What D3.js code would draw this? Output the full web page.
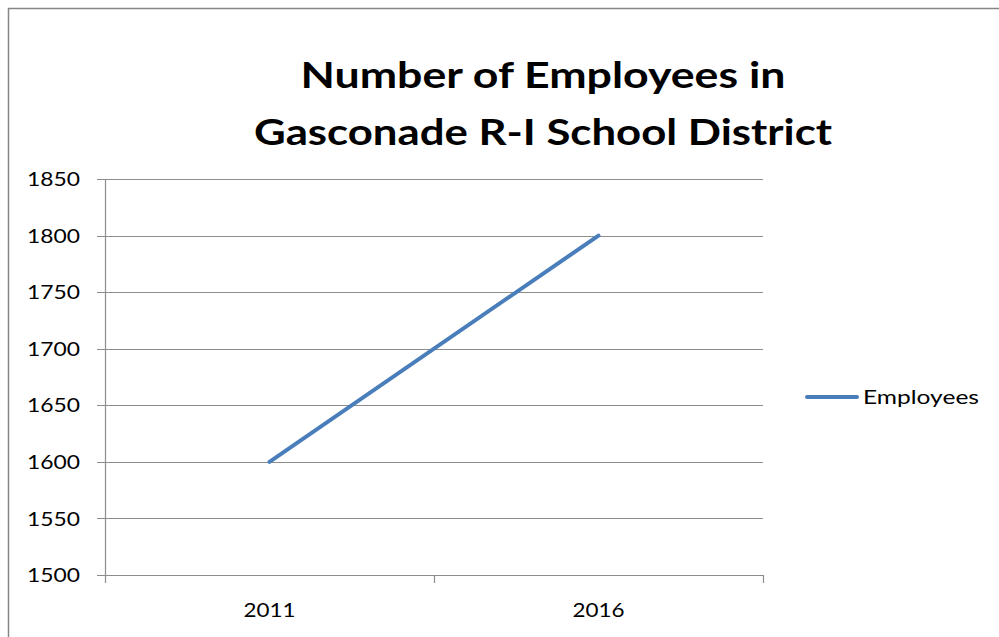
<!DOCTYPE html>
<html>
<head>
<meta charset="utf-8">
<script src="https://cdn.jsdelivr.net/npm/d3@7/dist/d3.min.js"></script>
<style>
html,body{margin:0;padding:0;background:#fff;overflow:hidden;}
svg{display:block;}
text{font-family:Lato,"Open Sans",sans-serif;fill:#000;}
</style>
</head>
<body>
<svg id="chart" width="999" height="637"></svg>
<script>
const categories = ["2011", "2016"];
const employees = [1600, 1800];
const yTicks = [1500, 1550, 1600, 1650, 1700, 1750, 1800, 1850];
const titleLines = ["Number of Employees in", "Gasconade R-I School District"];
const seriesName = "Employees";

(function () {
const svg = d3.select("#chart");
// outer border
svg.append("rect").attr("x", 8.5).attr("y", 8.5).attr("width", 995).attr("height", 640)
  .attr("fill", "none").attr("stroke", "#868686").attr("stroke-width", 1.5);

const pLeft = 105, pRight = 763, pTop = 179, pBottom = 575;
const x = d3.scaleBand().domain(categories).range([pLeft, pRight]);
const y = d3.scaleLinear().domain([1500, 1850]).range([pBottom, pTop]);

// gridlines
svg.append("g").selectAll("line").data(yTicks).join("line")
  .attr("x1", pLeft - 8).attr("x2", pRight)
  .attr("y1", d => Math.round(y(d)) + 0.5).attr("y2", d => Math.round(y(d)) + 0.5)
  .attr("stroke", "#8c8c8c").attr("stroke-width", 1.2);

// y axis line
svg.append("line").attr("x1", pLeft + 0.5).attr("x2", pLeft + 0.5).attr("y1", pTop).attr("y2", pBottom)
  .attr("stroke", "#8c8c8c").attr("stroke-width", 1.2);

// x axis ticks
const xTickPos = [pLeft, ...categories.map(c => x(c) + x.bandwidth())];
svg.append("g").selectAll("line").data(xTickPos).join("line")
  .attr("x1", d => Math.round(d) + 0.5).attr("x2", d => Math.round(d) + 0.5)
  .attr("y1", pBottom).attr("y2", pBottom + 8)
  .attr("stroke", "#8c8c8c").attr("stroke-width", 1.2);

// y labels
svg.append("g").selectAll("text").data(yTicks).join("text")
  .attr("x", 80).attr("y", d => y(d)).attr("dy", "0.36em")
  .attr("text-anchor", "end").attr("font-size", 20)
  .attr("textLength", 53).attr("lengthAdjust", "spacingAndGlyphs").text(d => d);

// x labels
svg.append("g").selectAll("text").data(categories).join("text")
  .attr("x", d => x(d) + x.bandwidth() / 2).attr("y", 610).attr("dy", "0.36em")
  .attr("text-anchor", "middle").attr("font-size", 20)
  .attr("textLength", 52).attr("lengthAdjust", "spacingAndGlyphs").text(d => d);

// line
const line = d3.line().x((d, i) => x(categories[i]) + x.bandwidth() / 2).y(d => y(d));
svg.append("path").datum(employees).attr("d", line)
  .attr("fill", "none").attr("stroke", "#4a7ebb").attr("stroke-width", 4).attr("stroke-linecap", "round");

// title
const tw = [485, 578];
svg.append("g").selectAll("text").data(titleLines).join("text")
  .attr("x", 543).attr("y", (d, i) => 88 + i * 57)
  .attr("text-anchor", "middle").attr("font-size", 37).attr("font-weight", "bold")
  .attr("textLength", (d, i) => tw[i]).attr("lengthAdjust", "spacingAndGlyphs")
  .text(d => d);

// legend
svg.append("line").attr("x1", 807).attr("x2", 857).attr("y1", 397).attr("y2", 397)
  .attr("stroke", "#4a7ebb").attr("stroke-width", 4).attr("stroke-linecap", "round");
svg.append("text").attr("x", 863).attr("y", 397).attr("dy", "0.36em")
  .attr("font-size", 20).attr("textLength", 116).attr("lengthAdjust", "spacingAndGlyphs")
  .text(seriesName);
})();
</script>
</body>
</html>
